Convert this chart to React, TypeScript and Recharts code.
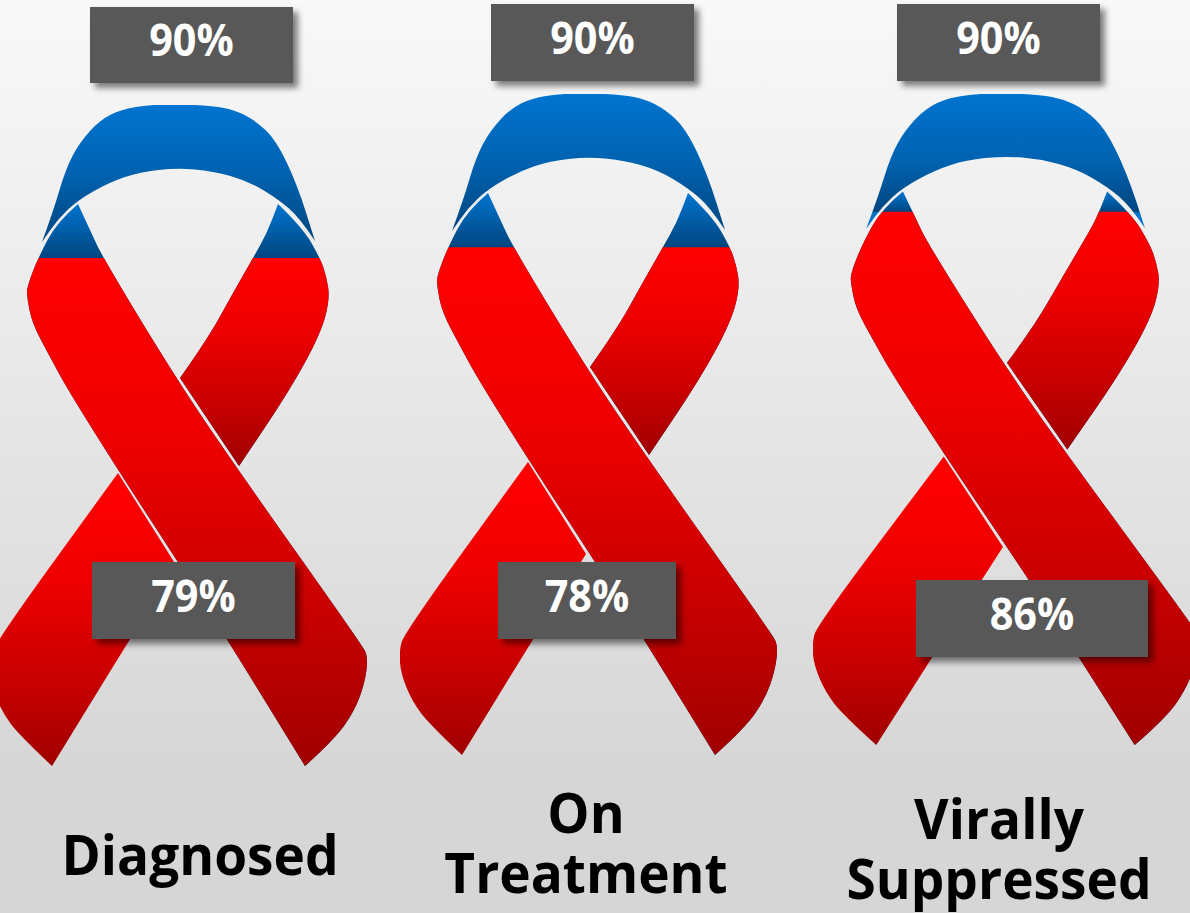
import { BarChart, Bar, XAxis, YAxis, LabelList } from 'recharts';

const stages = ['Diagnosed', 'On Treatment', 'Virally Suppressed'];
const targetValues = [90, 90, 90];
const actualValues = [79, 78, 86];

// Each ribbon sits on its own truncated value axis, top of the loop = target.
const panels = [
  { id: 'dx', left: -10, top: 105, width: 377, height: 661, domain: [42.5, 90], targetBox: [90, 7, 203, 76], actualBox: [92, 562, 203, 77], stageX: 200, stageY: 875, stageLines: 1 },
  { id: 'tx', left: 400, top: 94, width: 377, height: 661, domain: [38.2, 90], targetBox: [491, 4, 203, 77], actualBox: [498, 562, 178, 77], stageX: 586, stageY: 833, stageLines: 2 },
  { id: 'vs', left: 813, top: 94, width: 385, height: 651, domain: [67.9, 90], targetBox: [897, 4, 203, 77], actualBox: [916, 580, 232, 77], stageX: 999, stageY: 839, stageLines: 2 },
];

// Ribbon outlines in a 377 x 661 drawing space; a third entry marks a sharp corner
const LOOP = [[52,137,1],[63,107],[76,63],[90,37],[110,15],[132,4],[160,0],[187,-1],[223,1],[245,5],[266,16],[286,35],[307,79],[325,136,1],[310,113],[288,94],[258,76],[223,66],[187,63],[150,67],[120,77],[88,95],[68,114]];
const FRONT = [[88,99,1],[67,117],[48,153],[37,182],[37,192],[42,218],[60,252],[78,285],[128,365],[188,457],[237,534],[315,661,1],[345,634],[365,605],[375,577],[378,552],[372,540],[248,365],[187,275],[113,153],[100,125]];
const BACK = [[288,99,1],[313,123],[330,153],[336,170],[340,193],[331,228],[300,285],[249,361,1],[190,273,1],[217,235],[243,188],[263,153],[277,128]];
const LOWER = [[128,368,1],[186,460,1],[140,534],[62,661,1],[29,630],[12,607],[1,580],[-1,558],[4,539]];

const FONT = '"Open Sans", sans-serif';

// Rounds every soft point with a quadratic through the midpoints
const outline = (pts: number[][], x: number, top: number, w: number, h: number) => {
  const at = ([px, py]: number[]) => [x + (px / 377) * w, top + (py / 661) * h];
  const [sx, sy] = at(pts[0]);
  let path = `M${sx},${sy}`;
  for (let i = 1; i <= pts.length; i++) {
    const cur = pts[i % pts.length];
    const [cx, cy] = at(cur);
    if (cur[2]) {
      path += `L${cx},${cy}`;
    } else {
      const [nx, ny] = at(pts[(i + 1) % pts.length]);
      path += `Q${cx},${cy} ${(cx + nx) / 2},${(cy + ny) / 2}`;
    }
  }
  return path + 'Z';
};

function TargetRibbon({ x, width, panel }: any) {
  const d = (pts: number[][]) => outline(pts, x, panel.top, width, panel.height);
  return (
    <g>
      <path d={d(LOOP)} fill={`url(#loop-${panel.id})`} />
      <path d={d(FRONT)} fill={`url(#tips-${panel.id})`} />
      <path d={d(BACK)} fill={`url(#tips-${panel.id})`} />
    </g>
  );
}

function ActualRibbon({ x, y, width, panel }: any) {
  const d = (pts: number[][]) => outline(pts, x, panel.top, width, panel.height);
  const sy = panel.height / 661;
  const tipY = panel.top + 99 * sy;
  const loopEnd = panel.top + 137 * sy;
  const bottom = panel.top + panel.height;
  const split = Math.min(1, (y - panel.top) / (loopEnd - panel.top));
  const redStops = (id: string, y1: number, y2: number) => (
    <linearGradient id={id} gradientUnits="userSpaceOnUse" x1="0" x2="0" y1={y1} y2={y2}>
      <stop offset="0" stopColor="#ff0000" />
      <stop offset="0.35" stopColor="#ee0000" />
      <stop offset="0.7" stopColor="#c80000" />
      <stop offset="1" stopColor="#a00000" />
    </linearGradient>
  );
  return (
    <g>
      <defs>
        <linearGradient id={`loop-${panel.id}`} gradientUnits="userSpaceOnUse" x1="0" x2="0" y1={panel.top} y2={loopEnd}>
          <stop offset="0" stopColor="#0074d0" />
          <stop offset="0.5" stopColor="#0062b0" />
          <stop offset={split} stopColor="#00467f" />
          <stop offset={split} stopColor="#0070c8" />
          <stop offset="1" stopColor="#0070c8" />
        </linearGradient>
        <linearGradient id={`tips-${panel.id}`} gradientUnits="userSpaceOnUse" x1="0" x2="0" y1={tipY} y2={y}>
          <stop offset="0" stopColor="#0074d0" />
          <stop offset="1" stopColor="#00467f" />
        </linearGradient>
        {redStops(`front-${panel.id}`, y, bottom)}
        {redStops(`back-${panel.id}`, y, panel.top + 361 * sy)}
        {redStops(`lower-${panel.id}`, panel.top + 380 * sy, bottom)}
        <clipPath id={`level-${panel.id}`}>
          <rect x={x} y={y} width={width} height={bottom - y} />
        </clipPath>
      </defs>
      <g clipPath={`url(#level-${panel.id})`}>
        <path d={d(BACK)} fill={`url(#back-${panel.id})`} />
        <path d={d(LOWER)} fill={`url(#lower-${panel.id})`} />
        <path d={d(FRONT)} fill={`url(#front-${panel.id})`} />
      </g>
    </g>
  );
}

function ValueBox({ value, box, left, id }: any) {
  const [bx, by, bw, bh] = box;
  return (
    <g>
      <rect x={bx - left} y={by} width={bw} height={bh} fill="#595959" filter={`url(#box-shadow-${id})`} />
      <text
        transform={`translate(${bx - left + bw / 2},${by + bh / 2 + 11}) scale(0.92,1)`}
        textAnchor="middle"
        fontFamily={FONT}
        fontWeight={700}
        fontSize={45}
        fill="#ffffff"
      >
        {value}%
      </text>
    </g>
  );
}

function StageTick({ payload, panel }: any) {
  const words: string[] = panel.stageLines > 1 ? payload.value.split(' ') : [payload.value];
  return (
    <text
      transform={`translate(${panel.stageX - panel.left},${panel.stageY}) scale(0.95,1)`}
      textAnchor="middle"
      fontFamily={FONT}
      fontWeight={700}
      fontSize={56}
      fill="#000000"
    >
      {words.map((word, i) => (
        <tspan key={word} x={0} dy={i === 0 ? 0 : 60}>
          {word}
        </tspan>
      ))}
    </text>
  );
}

function RibbonPanel({ index }: { index: number }) {
  const panel = panels[index];
  const row = [{ stage: stages[index], target: targetValues[index], actual: actualValues[index] }];
  return (
    <div style={{ position: 'absolute', left: panel.left, top: 0 }}>
      <BarChart
        width={panel.width}
        height={913}
        data={row}
        barCategoryGap={0}
        barGap="-100%"
        margin={{ top: panel.top, right: 0, left: 0, bottom: 0 }}
        style={{ overflow: 'visible' }}
      >
        <defs>
          <filter id={`box-shadow-${panel.id}`} x="-10%" y="-20%" width="125%" height="150%">
            <feDropShadow dx="5" dy="5" stdDeviation="3" floodColor="#000000" floodOpacity="0.5" />
          </filter>
        </defs>
        <XAxis
          dataKey="stage"
          height={913 - panel.top - panel.height}
          axisLine={false}
          tickLine={false}
          interval={0}
          tick={(props: any) => <StageTick {...props} panel={panel} />}
        />
        <YAxis hide domain={panel.domain} allowDataOverflow />
        <Bar dataKey="target" isAnimationActive={false} shape={(props: any) => <TargetRibbon {...props} panel={panel} />}>
          <LabelList dataKey="target" content={(props: any) => <ValueBox value={props.value} box={panel.targetBox} left={panel.left} id={panel.id} />} />
        </Bar>
        <Bar dataKey="actual" isAnimationActive={false} shape={(props: any) => <ActualRibbon {...props} panel={panel} />}>
          <LabelList dataKey="actual" content={(props: any) => <ValueBox value={props.value} box={panel.actualBox} left={panel.left} id={panel.id} />} />
        </Bar>
      </BarChart>
    </div>
  );
}

export default function App() {
  return (
    <div
      style={{
        position: 'fixed',
        left: 0,
        top: 0,
        width: 1190,
        height: 913,
        overflow: 'hidden',
        background: 'linear-gradient(180deg, #f9f9f9 0%, #d6d6d6 85%, #d6d6d6 100%)',
      }}
    >
      {stages.map((stage, i) => (
        <RibbonPanel key={stage} index={i} />
      ))}
    </div>
  );
}
